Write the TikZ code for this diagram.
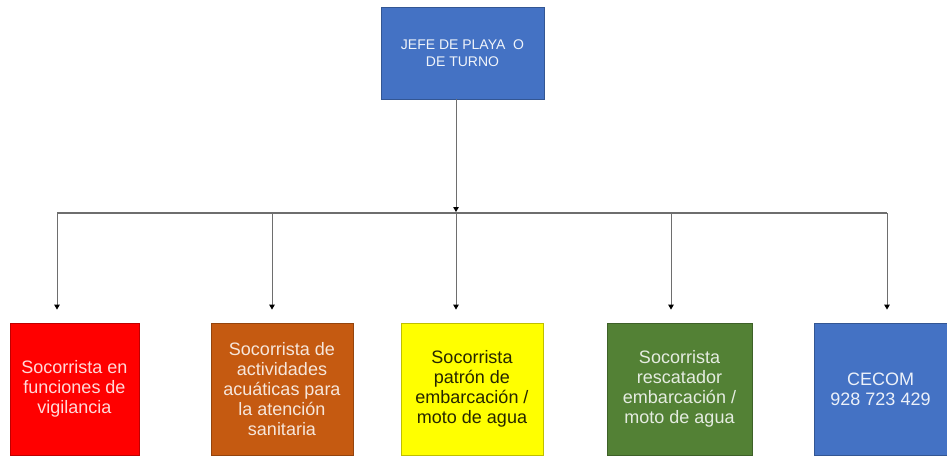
\documentclass[tikz,border=0pt]{standalone}
\usepackage{fontspec}
\setmainfont{Liberation Sans}
\usetikzlibrary{arrows.meta}
\definecolor{cRed}{HTML}{FF0000}
\definecolor{cOrange}{HTML}{C55A11}
\definecolor{cYellow}{HTML}{FFFF00}
\definecolor{cGreen}{HTML}{538135}
\definecolor{cBlue}{HTML}{4472C4}
\definecolor{cLine}{HTML}{6E6E6E}
\begin{document}
\begin{tikzpicture}[x=1pt,y=-1pt,
  box/.style={draw=#1!75!black, line width=0.8pt, fill=#1, inner sep=0pt, align=center,
    font=\fontsize{18}{19.8}\selectfont, minimum height=132pt},
  topbox/.style={draw=cBlue!75!black, line width=0.8pt, fill=cBlue, inner sep=0pt, align=center,
    font=\fontsize{14}{16.5}\selectfont, text=white!92!cBlue, minimum width=163pt, minimum height=92pt},
  conn/.style={draw=cLine, line width=1pt},
  arr/.style={conn, -{Triangle[length=5pt,width=5.5pt,color=black]}, shorten >=13pt},
  joinarr/.style={conn, -{Triangle[length=5pt,width=5.5pt,color=black]}}
]
\useasboundingbox (0,0) rectangle (947,457);
\fill[white] (0,0) rectangle (947,457);

\node[topbox] (top) at (462.5,53) {JEFE DE PLAYA\ \ O\\DE TURNO};

\node[box=cRed, minimum width=129pt, text=white!85!cRed] (r) at (74.5,389)
  {Socorrista en\\funciones de\\vigilancia};
\node[box=cOrange, minimum width=142pt, text=white!85!cOrange] (o) at (282,389)
  {Socorrista de\\actividades\\acuáticas para\\la atención\\sanitaria};
\node[box=cYellow, minimum width=142pt, text=black!85!cYellow] (y) at (472,389)
  {Socorrista\\patrón de\\embarcación /\\moto de agua};
\node[box=cGreen, minimum width=145pt, text=white!85!cGreen] (g) at (679.5,389)
  {Socorrista\\rescatador\\embarcación /\\moto de agua};
\node[box=cBlue, minimum width=133pt, text=white!90!cBlue] (b) at (880.5,389)
  {CECOM\\928 723 429};

\coordinate (j) at (456,213);
\coordinate (hl) at (57,213);
\coordinate (ho) at (272,213);
\coordinate (hg) at (671,213);
\coordinate (hr) at (887,213);

\draw[conn, line width=2pt] (hl) -- (hr);
\draw[joinarr] (j |- top.south) -- ([yshift=1pt]j);
\draw[arr] (hl) -- (hl |- r.north);
\draw[arr] (ho) -- (ho |- o.north);
\draw[arr] (j) -- (j |- y.north);
\draw[arr] (hg) -- (hg |- g.north);
\draw[arr] (hr) -- (hr |- b.north);
\end{tikzpicture}
\end{document}
